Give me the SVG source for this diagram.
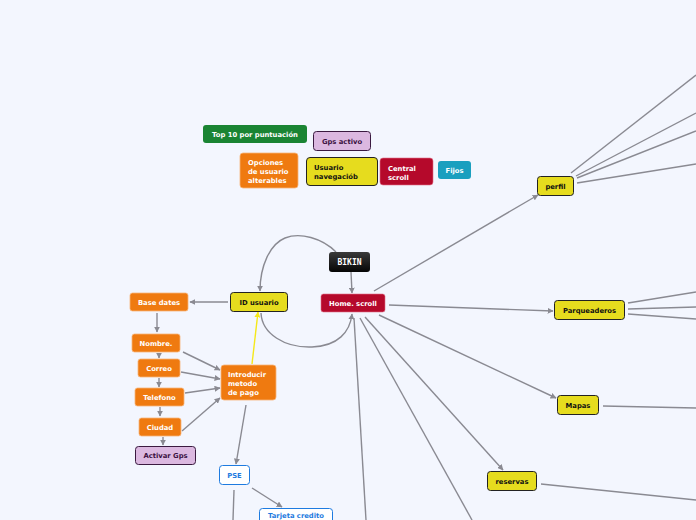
<svg xmlns="http://www.w3.org/2000/svg" width="696" height="520" viewBox="0 0 696 520">
<defs>
<marker id="ah" viewBox="0 0 10 10" refX="9" refY="5" markerWidth="6" markerHeight="6" orient="auto" markerUnits="userSpaceOnUse">
<path d="M0,0 L10,5 L0,10 z" fill="#8a8a92"/>
</marker>
<marker id="ay" viewBox="0 0 10 10" refX="9" refY="5" markerWidth="6" markerHeight="6" orient="auto" markerUnits="userSpaceOnUse">
<path d="M0,0 L10,5 L0,10 z" fill="#f5e81a"/>
</marker>
<linearGradient id="blk" x1="0" y1="0" x2="0" y2="1">
<stop offset="0" stop-color="#3a3a3a"/>
<stop offset="1" stop-color="#050505"/>
</linearGradient>
<style>
.c{fill:none;stroke:#8a8a92;stroke-width:1.4}
.ca{fill:none;stroke:#8a8a92;stroke-width:1.4;marker-end:url(#ah)}
text{font-family:"DejaVu Sans",Verdana,sans-serif;font-weight:bold;font-size:6.8px}
.w{fill:#ffffff}
.k{fill:#111111}
.p{fill:#3a1040}
.b{fill:#1e7be0}
.or{fill:#ef7a10;stroke:#f7b57a;stroke-width:0.8}
.ye{fill:#e6dc1e;stroke:#222222;stroke-width:1}
.cr{fill:#b5092b;stroke:#e07088;stroke-width:0.6}
.li{fill:#dbb8e0;stroke:#3a1a40;stroke-width:1}
.bl{fill:#ffffff;stroke:#1e7be0;stroke-width:1}
</style>
</defs>
<rect width="696" height="520" fill="#f3f6fe"/>
<g id="connectors">
<path class="ca" d="M351,272 L352,293"/>
<path class="ca" d="M336,252 C322,238 300,232 285,238 C270,244 260,266 260,291"/>
<path class="ca" d="M261,313 C262,334 285,348 312,347 C338,346 350,332 352,314"/>
<path class="ca" d="M228,302 L190,302"/>
<path class="ca" d="M157,313 L157,332"/>
<path class="ca" d="M159,353 L159,358"/>
<path class="ca" d="M159,378 L159,387"/>
<path class="ca" d="M160,407 L160,416"/>
<path class="ca" d="M163,437 L163,445"/>
<path class="ca" d="M183,352 L220,370"/>
<path class="ca" d="M181,372 L220,379"/>
<path class="ca" d="M185,393 L220,388"/>
<path class="ca" d="M182,431 L220,398"/>
<path d="M252,364 L258,312" fill="none" stroke="#f5e81a" stroke-width="1.4" marker-end="url(#ay)"/>
<path class="ca" d="M246,405 L236,464"/>
<path class="ca" d="M252,488 L282,507"/>
<path class="c" d="M234,490 L233,520"/>
<path class="ca" d="M374,291 L538,195"/>
<path class="ca" d="M389,305 L553,311"/>
<path class="ca" d="M379,315 L556,398"/>
<path class="ca" d="M365,317 L503,470"/>
<path class="c" d="M360,318 L472,520"/>
<path class="c" d="M354,318 L366,520"/>
<path class="c" d="M571,173 L696,75"/>
<path class="c" d="M576,176 L696,113"/>
<path class="c" d="M577,178 L696,131"/>
<path class="c" d="M577,183 L696,164"/>
<path class="c" d="M628,303 L696,292"/>
<path class="c" d="M628,309 L696,307"/>
<path class="c" d="M628,314 L696,319"/>
<path class="c" d="M603,406 L696,408"/>
<path class="c" d="M541,484 L696,500"/>
</g>
<g id="n-top10"><rect x="203" y="125" width="104" height="18" rx="3" fill="#1a8433"/><text class="w" x="255" y="136.5" text-anchor="middle">Top 10 por puntuación</text></g>
<g id="n-gpsactivo"><rect x="313.5" y="131.5" width="57" height="19" rx="3" class="li"/><text class="p" x="342" y="143.5" text-anchor="middle">Gps activo</text></g>
<g id="n-opciones"><rect x="240" y="153" width="58" height="35" rx="3" class="or"/><text class="w" x="248" y="164.5">Opciones</text><text class="w" x="248" y="173.5">de usuario</text><text class="w" x="248" y="182.5">alterables</text></g>
<g id="n-usuario"><rect x="306.5" y="157.5" width="71" height="28" rx="3.5" class="ye"/><text class="k" x="314" y="169.5">Usuario</text><text class="k" x="314" y="178.5">navegaciób</text></g>
<g id="n-central"><rect x="380" y="158" width="53" height="27" rx="3" class="cr"/><text class="w" x="388" y="170.5">Central</text><text class="w" x="388" y="179.5">scroll</text></g>
<g id="n-fijos"><rect x="438" y="161" width="33" height="18" rx="3" fill="#1a9fbf"/><text class="w" x="454.5" y="172.5" text-anchor="middle">Fijos</text></g>
<g id="n-bikin"><rect x="329" y="252" width="41" height="20" rx="3" fill="url(#blk)"/><text class="w" x="349.5" y="265" text-anchor="middle" style="font-family:'DejaVu Sans Mono',monospace;font-size:8px">BIKIN</text></g>
<g id="n-home"><rect x="321" y="294" width="64" height="18" rx="2.5" class="cr"/><text class="w" x="353" y="305.5" text-anchor="middle">Home. scroll</text></g>
<g id="n-idusuario"><rect x="230.5" y="292.5" width="57" height="19" rx="3" class="ye"/><text class="k" x="259" y="304.5" text-anchor="middle">ID usuario</text></g>
<g id="n-basedates"><rect x="130" y="293" width="58" height="18" rx="2.5" class="or"/><text class="w" x="159" y="304.5" text-anchor="middle">Base dates</text></g>
<g id="n-nombre"><rect x="132" y="334" width="48" height="18" rx="2.5" class="or"/><text class="w" x="156" y="345.5" text-anchor="middle">Nombre.</text></g>
<g id="n-correo"><rect x="138" y="359" width="42" height="18" rx="2.5" class="or"/><text class="w" x="159" y="370.5" text-anchor="middle">Correo</text></g>
<g id="n-telefono"><rect x="135" y="388" width="49" height="18" rx="2.5" class="or"/><text class="w" x="159.5" y="399.5" text-anchor="middle">Telefono</text></g>
<g id="n-ciudad"><rect x="139" y="418" width="42" height="18" rx="2.5" class="or"/><text class="w" x="160" y="429.5" text-anchor="middle">Ciudad</text></g>
<g id="n-activargps"><rect x="135.5" y="446.5" width="60" height="18" rx="3" class="li"/><text class="p" x="165.5" y="458" text-anchor="middle">Activar Gps</text></g>
<g id="n-introducir"><rect x="221" y="365" width="55" height="35" rx="3" class="or"/><text class="w" x="228" y="376.5">Introducir</text><text class="w" x="228" y="385.5">metodo</text><text class="w" x="228" y="394.5">de pago</text></g>
<g id="n-pse"><rect x="219.5" y="465.5" width="30" height="19" rx="3" class="bl"/><text class="b" x="234.5" y="477.5" text-anchor="middle">PSE</text></g>
<g id="n-tarjeta"><rect x="259.5" y="508.5" width="73" height="19" rx="3" class="bl"/><text class="b" x="296" y="518" text-anchor="middle">Tarjeta credito</text></g>
<g id="n-perfil"><rect x="537.5" y="176.5" width="36" height="19" rx="3" class="ye"/><text class="k" x="555.5" y="188.5" text-anchor="middle">perfil</text></g>
<g id="n-parqueaderos"><rect x="554.5" y="300.5" width="70" height="19" rx="3" class="ye"/><text class="k" x="589.5" y="312.5" text-anchor="middle">Parqueaderos</text></g>
<g id="n-mapas"><rect x="557.5" y="395.5" width="41" height="19" rx="3" class="ye"/><text class="k" x="578" y="407.5" text-anchor="middle">Mapas</text></g>
<g id="n-reservas"><rect x="487.5" y="471.5" width="49" height="19" rx="3" class="ye"/><text class="k" x="512" y="483.5" text-anchor="middle">reservas</text></g>
</svg>
